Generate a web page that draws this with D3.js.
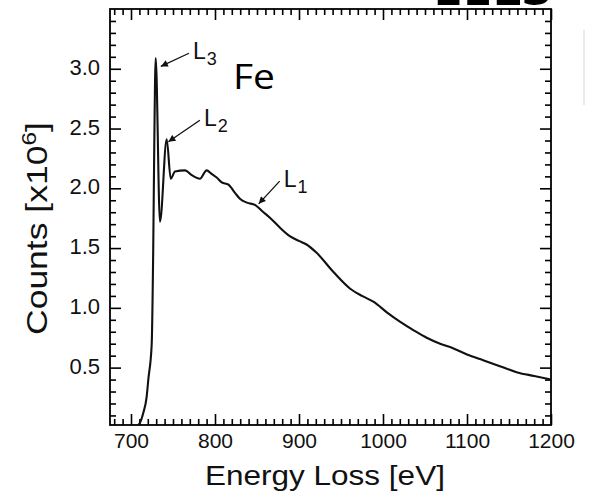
<!DOCTYPE html>
<html>
<head>
<meta charset="utf-8">
<script src="https://cdn.jsdelivr.net/npm/d3@7"></script>
<style>
  html, body { margin: 0; padding: 0; background: #fff; }
  svg { display: block; }
  .axis text { font-family: "Liberation Sans", Arial, sans-serif; fill: #111; }
  .axis line { stroke: #000; stroke-width: 1.6; }
</style>
</head>
<body>
<svg id="chart" width="592" height="495"></svg>
<script>
// Fe L-edge spectrum: energy loss (eV) vs counts (x10^6)
const energyEv = [700, 708.7, 714.6, 718.7, 720.6, 724.6, 726.5, 727.7, 729.4, 734.5,
  742.5, 747.3, 752.4, 764.3, 772.3, 782.1, 790, 796, 802, 808, 816, 824, 830, 838,
  848, 856, 866, 876, 889, 900, 909, 921, 941, 961, 975, 989, 1005, 1021, 1037, 1052,
  1068, 1084, 1100, 1120, 1140, 1160, 1180, 1200];
const countsM = [0.0, 0.02, 0.12, 0.26, 0.40, 0.69, 1.52, 2.36, 3.09, 1.72,
  2.41, 2.08, 2.14, 2.15, 2.11, 2.08, 2.15, 2.12, 2.09, 2.05, 2.03, 1.96, 1.91, 1.88,
  1.86, 1.81, 1.75, 1.68, 1.60, 1.56, 1.53, 1.46, 1.30, 1.16, 1.10, 1.05, 0.96, 0.88, 0.81, 0.75,
  0.70, 0.66, 0.61, 0.56, 0.51, 0.46, 0.43, 0.40];

const xTickValues = [700, 800, 900, 1000, 1100, 1200];
const yTickValues = [0.5, 1.0, 1.5, 2.0, 2.5, 3.0];

// Edge annotations: label, arrow tail and arrow tip in data units
const edgeNames = ["3", "2", "1"];
const edgeTipEv = [735.5, 744.5, 852];
const edgeTipCounts = [3.02, 2.39, 1.87];
const edgeTailEv = [769, 782, 877];
const edgeTailCounts = [3.13, 2.57, 2.06];

const svg = d3.select("#chart");
const plotLeft = 110, plotRight = 551, plotTop = 9, plotBottom = 425;

const x = d3.scaleLinear().domain([675, 1200]).range([plotLeft, plotRight]);
const y = d3.scaleLinear().domain([0.02, 3.5]).range([plotBottom, plotTop]);

const minorX = d3.range(680, 1201, 10).filter(v => v % 100 !== 0);
const minorY = d3.range(1, 35).map(i => i / 10).filter(v => Math.round(v * 10) % 5 !== 0);

// Bottom axis (ticks point inward)
const gB = svg.append("g").attr("class", "axis").attr("transform", `translate(0,${plotBottom})`)
  .call(d3.axisBottom(x).tickValues(xTickValues).tickSize(-11).tickPadding(8).tickFormat(d3.format("d")));
gB.selectAll("text").attr("font-size", 21);
svg.append("g").attr("class", "axis").attr("transform", `translate(0,${plotBottom})`)
  .call(d3.axisBottom(x).tickValues(minorX).tickSize(-6).tickFormat(""));

// Top axis (mirror ticks)
svg.append("g").attr("class", "axis").attr("transform", `translate(0,${plotTop})`)
  .call(d3.axisTop(x).tickValues(xTickValues).tickSize(-11).tickFormat(""));
svg.append("g").attr("class", "axis").attr("transform", `translate(0,${plotTop})`)
  .call(d3.axisTop(x).tickValues(minorX).tickSize(-6).tickFormat(""));

// Left axis
const gL = svg.append("g").attr("class", "axis").attr("transform", `translate(${plotLeft},0)`)
  .call(d3.axisLeft(y).tickValues(yTickValues).tickSize(-11).tickPadding(10).tickFormat(d3.format(".1f")));
gL.selectAll("text").attr("font-size", 22).attr("dy", "0.25em");
svg.append("g").attr("class", "axis").attr("transform", `translate(${plotLeft},0)`)
  .call(d3.axisLeft(y).tickValues(minorY).tickSize(-6).tickFormat(""));

// Right axis (mirror ticks)
svg.append("g").attr("class", "axis").attr("transform", `translate(${plotRight},0)`)
  .call(d3.axisRight(y).tickValues(yTickValues).tickSize(-11).tickFormat(""));
svg.append("g").attr("class", "axis").attr("transform", `translate(${plotRight},0)`)
  .call(d3.axisRight(y).tickValues(minorY).tickSize(-6).tickFormat(""));

svg.selectAll(".axis .domain").remove();

// Plot frame
svg.append("rect")
  .attr("x", plotLeft).attr("y", plotTop)
  .attr("width", plotRight - plotLeft).attr("height", plotBottom - plotTop)
  .attr("fill", "none").attr("stroke", "#000").attr("stroke-width", 1.8);

// Spectrum
const defs = svg.append("defs");
defs.append("clipPath").attr("id", "plotClip").append("rect")
  .attr("x", plotLeft).attr("y", plotTop)
  .attr("width", plotRight - plotLeft).attr("height", plotBottom - plotTop);

const line = d3.line()
  .x((d, i) => x(energyEv[i]))
  .y((d, i) => y(countsM[i]))
  .curve(d3.curveMonotoneX);

svg.append("path")
  .datum(countsM)
  .attr("clip-path", "url(#plotClip)")
  .attr("d", line)
  .attr("fill", "none")
  .attr("stroke", "#111")
  .attr("stroke-width", 2.1)
  .attr("stroke-linejoin", "round");

// Arrow markers
defs.append("marker")
  .attr("id", "arrowHead")
  .attr("viewBox", "0 0 10 10")
  .attr("refX", 10).attr("refY", 5)
  .attr("markerWidth", 9).attr("markerHeight", 7)
  .attr("markerUnits", "userSpaceOnUse")
  .attr("orient", "auto")
  .append("path").attr("d", "M0,0 L10,5 L0,10 Z").attr("fill", "#111");

const font = "'Liberation Sans', Arial, sans-serif";
edgeNames.forEach((name, i) => {
  const tx = x(edgeTailEv[i]), ty = y(edgeTailCounts[i]);
  svg.append("line")
    .attr("x1", tx).attr("y1", ty)
    .attr("x2", x(edgeTipEv[i])).attr("y2", y(edgeTipCounts[i]))
    .attr("stroke", "#111").attr("stroke-width", 1.3)
    .attr("marker-end", "url(#arrowHead)");
  const t = svg.append("text")
    .attr("x", tx + 4).attr("y", ty + 6)
    .attr("font-family", font).attr("font-size", 23).attr("fill", "#111");
  t.append("tspan").text("L");
  t.append("tspan").attr("dx", 1).attr("dy", 6).attr("font-size", 18).text(name);
});

// Helper: stretch a text element to span a given width
function fitWidth(sel, target) {
  const w = sel.node().getComputedTextLength();
  return w > 0 ? target / w : 1;
}

// Element symbol
const fe = svg.append("text")
  .attr("font-family", "'Open Sans', 'Noto Sans', sans-serif")
  .attr("font-size", 35).attr("fill", "#000")
  .text("Fe");
const feScale = fitWidth(fe, 42);
fe.attr("transform", `translate(233,89) scale(${feScale},1)`);

// Technique heading, cut by the top edge
const eels = svg.append("text")
  .attr("font-family", "'Open Sans', 'Noto Sans', sans-serif")
  .attr("font-weight", 700)
  .attr("font-size", 46).attr("fill", "#000")
  .text("EELS");
const eelsScale = fitWidth(eels, 118);
eels.attr("transform", `translate(433,5) scale(${eelsScale},1)`);

// X axis title
const xt = svg.append("text")
  .attr("font-family", font).attr("font-size", 28).attr("fill", "#111")
  .text("Energy Loss [eV]");
const xs = fitWidth(xt, 240);
xt.attr("transform", `translate(205,485) scale(${xs},1)`);

// Y axis title
const yt = svg.append("text")
  .attr("font-family", font).attr("font-size", 29).attr("fill", "#111");
yt.append("tspan").text("Counts [x10");
yt.append("tspan").attr("dy", -11).attr("font-size", 20).text("6");
yt.append("tspan").attr("dy", 11).text("]");
const ys = fitWidth(yt, 213);
yt.attr("transform", `translate(47,335) rotate(-90) scale(${ys},1)`);

// Faint edge of the neighbouring panel
svg.append("line")
  .attr("x1", 584).attr("x2", 584).attr("y1", 30).attr("y2", 105)
  .attr("stroke", "#e4e4e4").attr("stroke-width", 1.5);
</script>
</body>
</html>
